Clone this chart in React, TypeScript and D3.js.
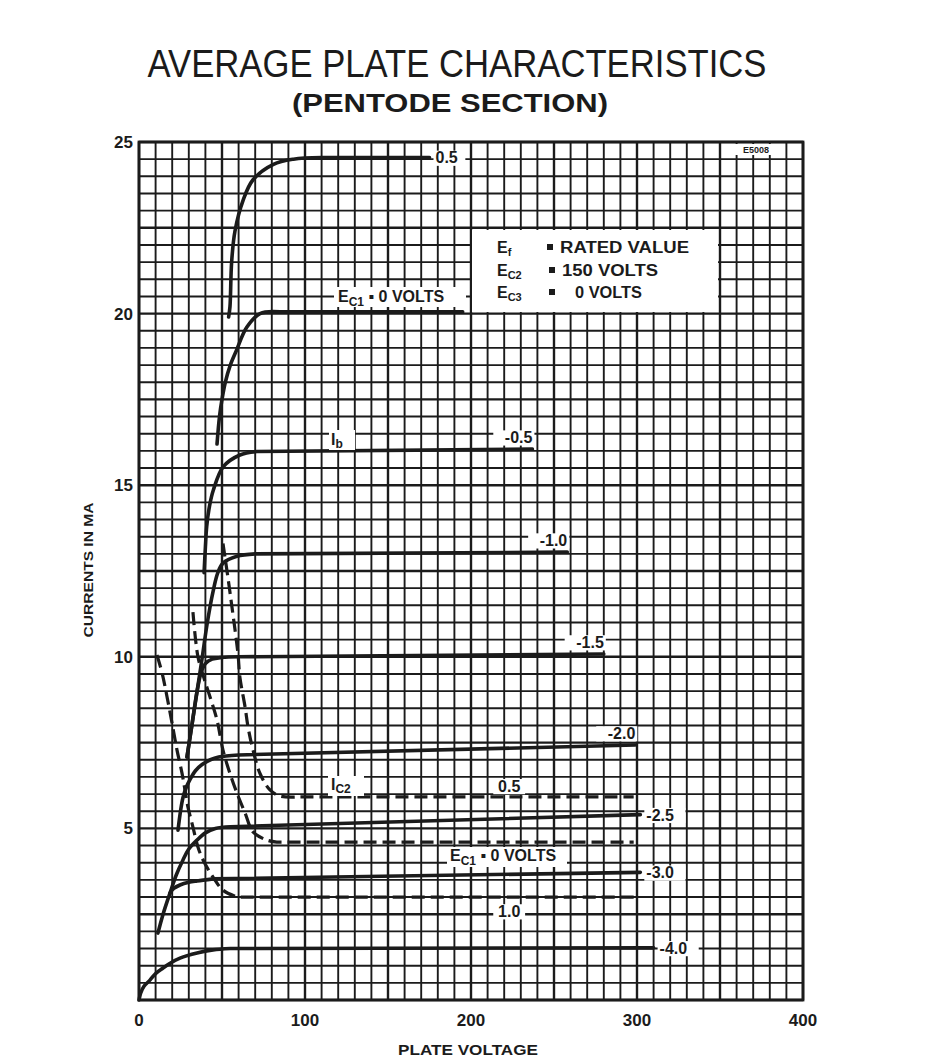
import React from "react";
import * as d3 from "d3";

type Pt = [number, number];

// ---------- axis ticks ----------
const xTicks = [0, 100, 200, 300, 400];
const yTicks = [5, 10, 15, 20, 25];

// ---------- plate current Ib (solid) ----------
const ibPos05: Pt[] = [[54, 19.9], [54.8, 20.2], [55.8, 21.5], [57.8, 22.4], [62.7, 23.3], [68.7, 23.9], [81, 24.35], [93, 24.5], [110, 24.55], [175, 24.55]];
const ibZero: Pt[] = [[47, 16.2], [48.5, 17.0], [50, 17.5], [52, 18.0], [55, 18.5], [58.8, 18.94], [64.9, 19.6], [72.9, 20.0], [85, 20.05], [195, 20.05]];
const ibNeg05: Pt[] = [[39.2, 12.45], [40, 13.2], [40.8, 13.8], [42.5, 14.4], [44.8, 14.86], [50.8, 15.54], [60.8, 15.88], [70.9, 15.98], [237, 16.05]];
const ibNeg10: Pt[] = [[28.9, 7.08], [32, 8.05], [35, 9.0], [38, 9.95], [41, 10.95], [44.6, 11.9], [47.5, 12.45], [50.6, 12.73], [59, 12.93], [70, 13.0], [258, 13.05]];
const ibNeg15: Pt[] = [[28.9, 7.08], [32, 8.05], [35, 9.0], [37.5, 9.55], [40, 9.8], [44, 9.93], [50, 9.98], [60, 10.0], [280, 10.08]];
const ibNeg20: Pt[] = [[23.5, 4.95], [25, 5.5], [26.5, 5.9], [28.5, 6.2], [30.7, 6.42], [34, 6.68], [38, 6.86], [43, 7.0], [48, 7.08], [60, 7.14], [299, 7.43]];
const ibNeg25: Pt[] = [[11.4, 1.95], [14.5, 2.5], [18.7, 3.12], [22.5, 3.65], [26.5, 4.08], [30, 4.4], [35, 4.66], [40, 4.87], [46, 5.0], [55, 5.05], [302, 5.4]];
const ibNeg30: Pt[] = [[18.7, 3.12], [21, 3.25], [24.7, 3.35], [30, 3.43], [35, 3.47], [44.6, 3.53], [302, 3.72]];
const ibNeg40: Pt[] = [[0, 0], [1, 0.2], [3, 0.4], [6.6, 0.58], [10, 0.77], [14.5, 0.93], [19, 1.08], [24.7, 1.22], [35, 1.37], [44.6, 1.46], [55, 1.5], [310, 1.52]];

// ---------- screen current Ic2 (dashed) ----------
const ic2Pos05: Pt[] = [[50.6, 13.3], [53.6, 12.3], [56, 11.45], [59.6, 10.1], [60.8, 9.4], [63.9, 8.54], [65.7, 7.95], [68.7, 7.28], [72.9, 6.6], [78.9, 6.12], [85, 5.94], [97, 5.92], [298, 5.92]];
const ic2Zero: Pt[] = [[32.5, 11.3], [35.5, 10.0], [39, 9.4], [42.8, 8.83], [47, 8.16], [50.6, 7.28], [54.8, 6.6], [59, 6.03], [63.9, 5.45], [68.7, 4.9], [77, 4.66], [83, 4.6], [298, 4.6]];
const ic2Neg10: Pt[] = [[10.8, 10.05], [13.9, 9.53], [16.9, 8.83], [19.9, 8.07], [22.9, 7.28], [25.9, 6.61], [27.7, 6.12], [29.5, 5.62], [32.5, 5.04], [35.5, 4.46], [38.6, 4.08], [44.6, 3.58], [50.6, 3.2], [59, 3.0], [298, 3.0]];

const ibCurves: Pt[][] = [ibPos05, ibZero, ibNeg05, ibNeg10, ibNeg15, ibNeg20, ibNeg25, ibNeg30, ibNeg40];
const ic2Curves: Pt[][] = [ic2Pos05, ic2Zero, ic2Neg10];

// end labels of the Ib curves ("above" = over the line end, "right" = after it)
const ibLabels = ["0.5", "", "-0.5", "-1.0", "-1.5", "-2.0", "-2.5", "-3.0", "-4.0"];
const ibLabelSide = ["right", "none", "above", "above", "above", "above", "right", "right", "right"];

const W = 926;
const H = 1059;
const INK = "#1b1b1b";
const FONT = "'Liberation Sans', Arial, sans-serif";

const x = d3.scaleLinear().domain([0, 400]).range([139, 803]);
const y = d3.scaleLinear().domain([0, 25]).range([1000, 142]);
const knee = d3
  .line<Pt>()
  .x((d) => x(d[0]))
  .y((d) => y(d[1]))
  .curve(d3.curveCatmullRom.alpha(0.5));

// smooth knee + straight saturated tail
function curvePath(pts: Pt[]): string {
  const head = knee(pts.slice(0, -1)) ?? "";
  const last = pts[pts.length - 1];
  return `${head}L${x(last[0])},${y(last[1])}`;
}

function Tag(props: { x: number; y: number; text: string; anchor?: string; size?: number }) {
  const size = props.size ?? 16;
  const anchor = props.anchor ?? "start";
  const w = props.text.length * size * 0.58 + 4;
  const left = anchor === "start" ? props.x - 2 : anchor === "end" ? props.x - w + 2 : props.x - w / 2;
  return (
    <g>
      <rect x={left} y={props.y - size * 0.8} width={w} height={size * 0.95} fill="#fff" />
      <text x={props.x} y={props.y} textAnchor={anchor} fontSize={size} fontWeight="bold" fontFamily={FONT} fill={INK}>
        {props.text}
      </text>
    </g>
  );
}

export default function App() {
  const vLines = d3.range(0, 401, 10);
  const hLines = d3.range(0, 50.5, 1).map((k) => k * 0.5);

  return (
    <div>
      <svg width={W} height={H} style={{ position: "absolute", left: 0, top: 0 }} xmlns="http://www.w3.org/2000/svg">
        <rect x={0} y={0} width={W} height={H} fill="#fff" />

        {/* title */}
        <text x={457} y={77} textAnchor="middle" fontSize={38} fontFamily={FONT} fill={INK} textLength={619} lengthAdjust="spacingAndGlyphs">
          AVERAGE PLATE CHARACTERISTICS
        </text>
        <text x={450} y={112} textAnchor="middle" fontSize={25} fontWeight="bold" fontFamily={FONT} fill={INK} textLength={316} lengthAdjust="spacingAndGlyphs">
          (PENTODE SECTION)
        </text>

        {/* grid */}
        <g stroke={INK}>
          {vLines.map((v) => (
            <line key={"v" + v} x1={x(v)} x2={x(v)} y1={y(0)} y2={y(25)} strokeWidth={v % 50 === 0 ? 2.4 : 1.9} />
          ))}
          {hLines.map((h) => (
            <line key={"h" + h} x1={x(0)} x2={x(400)} y1={y(h)} y2={y(h)} strokeWidth={Math.abs(h / 2.5 - Math.round(h / 2.5)) < 1e-6 ? 2.4 : 1.9} />
          ))}
          <rect x={x(0)} y={y(25)} width={x(400) - x(0)} height={y(0) - y(25)} fill="none" strokeWidth={2.8} />
        </g>

        {/* legend box */}
        <rect x={472} y={230} width={246} height={82} fill="#fff" />
        <g fontFamily={FONT} fontWeight="bold" fontSize={16} fill={INK}>
          <text x={497} y={253}>
            E<tspan fontSize={11} dy={3}>f</tspan>
          </text>
          <text x={497} y={276}>
            E<tspan fontSize={11} dy={3}>C2</tspan>
          </text>
          <text x={497} y={298}>
            E<tspan fontSize={11} dy={3}>C3</tspan>
          </text>
          <rect x={547} y={244} width={6} height={6} />
          <rect x={549} y={267} width={6} height={6} />
          <rect x={549} y={289} width={6} height={6} />
          <text x={560} y={253} textLength={129} lengthAdjust="spacingAndGlyphs">RATED VALUE</text>
          <text x={562} y={276} textLength={96} lengthAdjust="spacingAndGlyphs">150 VOLTS</text>
          <text x={575} y={298} textLength={67} lengthAdjust="spacingAndGlyphs">0 VOLTS</text>
        </g>

        {/* small drawing number */}
        <rect x={735} y={144} width={42} height={11} fill="#fff" />
        <text x={756} y={153} textAnchor="middle" fontSize={9} fontWeight="bold" fontFamily={FONT} fill={INK}>
          E5008
        </text>

        {/* Ic2 dashed curves */}
        {ic2Curves.map((c, i) => (
          <path key={"ic" + i} d={curvePath(c)} fill="none" stroke={INK} strokeWidth={3.2} strokeDasharray="13 6" />
        ))}

        {/* Ib solid curves */}
        {ibCurves.map((c, i) => (
          <path key={"ib" + i} d={curvePath(c)} fill="none" stroke={INK} strokeWidth={3.6} strokeLinecap="round" strokeLinejoin="round" />
        ))}

        {/* Ib end labels */}
        {ibCurves.map((c, i) => {
          const end = c[c.length - 1];
          const side = ibLabelSide[i];
          if (side === "none") return null;
          if (side === "above") return <Tag key={"lb" + i} x={x(end[0])} y={y(end[1]) - 6} text={ibLabels[i]} anchor="end" />;
          return <Tag key={"lb" + i} x={x(end[0]) + 6} y={y(end[1]) + 6} text={ibLabels[i]} anchor="start" />;
        })}

        {/* Ec1 = 0 label above Ib curve */}
        <g>
          <rect x={334} y={287} width={132} height={20} fill="#fff" />
          <text x={338} y={302} fontSize={16} fontWeight="bold" fontFamily={FONT} fill={INK}>
            E<tspan fontSize={12} dy={4}>C1</tspan>
            <tspan dy={-4}> ▪ 0 VOLTS</tspan>
          </text>
        </g>

        {/* Ib label */}
        <rect x={329} y={430} width={26} height={20} fill="#fff" />
        <text x={331} y={445} fontSize={16} fontWeight="bold" fontFamily={FONT} fill={INK}>
          I<tspan fontSize={12} dy={3}>b</tspan>
        </text>

        {/* Ic2 labels */}
        <rect x={328} y={776} width={36} height={20} fill="#fff" />
        <text x={331} y={790} fontSize={16} fontWeight="bold" fontFamily={FONT} fill={INK}>
          I<tspan fontSize={12} dy={3}>C2</tspan>
        </text>
        <Tag x={x(223)} y={y(5.92) - 5} text="0.5" anchor="middle" />
        <g>
          <rect x={447} y={847} width={120} height={20} fill="#fff" />
          <text x={450} y={861} fontSize={16} fontWeight="bold" fontFamily={FONT} fill={INK}>
            E<tspan fontSize={12} dy={4}>C1</tspan>
            <tspan dy={-4}> ▪ 0 VOLTS</tspan>
          </text>
        </g>
        <Tag x={x(223)} y={y(3.0) + 20} text="1.0" anchor="middle" />

        {/* tick labels */}
        <g fontFamily={FONT} fontWeight="bold" fontSize={17} fill={INK}>
          {yTicks.map((t) => (
            <text key={"yt" + t} x={133} y={y(t) + 6} textAnchor="end">
              {t}
            </text>
          ))}
          {xTicks.map((t) => (
            <text key={"xt" + t} x={x(t)} y={1026} textAnchor="middle">
              {t}
            </text>
          ))}
        </g>

        {/* axis titles */}
        <text x={0} y={0} transform="translate(93,570) rotate(-90)" textAnchor="middle" fontSize={13} fontWeight="bold" fontFamily={FONT} fill={INK} textLength={135} lengthAdjust="spacingAndGlyphs">
          CURRENTS IN MA
        </text>
        <text x={468} y={1055} textAnchor="middle" fontSize={14} fontWeight="bold" fontFamily={FONT} fill={INK} textLength={140} lengthAdjust="spacingAndGlyphs">
          PLATE VOLTAGE
        </text>
      </svg>
    </div>
  );
}
